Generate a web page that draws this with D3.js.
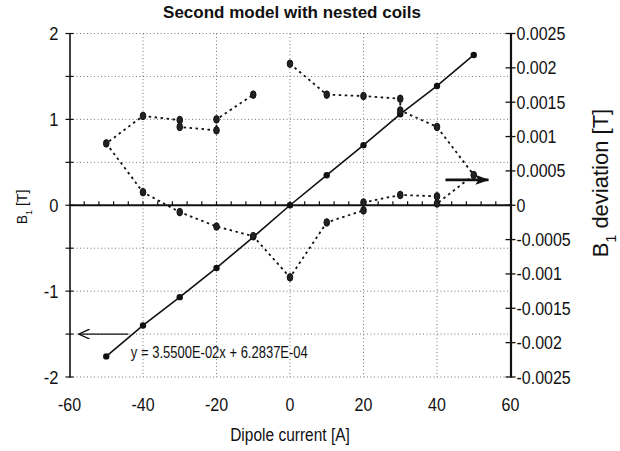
<!DOCTYPE html>
<html><head><meta charset="utf-8">
<script src="https://cdn.jsdelivr.net/npm/d3@7"></script>
<style>
html,body{margin:0;padding:0;background:#fff;}
text{font-family:"Liberation Sans",Arial,Helvetica,sans-serif;fill:#111;}
</style></head>
<body><svg id="c" width="620" height="451"></svg>
<script>
// ---------- data ----------
const title = "Second model with nested coils";
const xLabel = "Dipole current [A]";
const current = [-50,-40,-30,-20,-10,0,10,20,30,40,50];
const b1 = [-1.76,-1.40,-1.07,-0.73,-0.37,0.0,0.35,0.70,1.06,1.39,1.75];
// deviation path, in measurement order
const devCurrent = [0,10,20,30,30,40,50,40,40,30,20,20,10,0,-10,-20,-30,-40,-50,-40,-30,-30,-20,-20,-10];
const devValue = [0.00206,0.00161,0.00159,0.00155,0.00138,0.00114,0.00044,0.000025,0.00013,0.00015,0.00004,-0.000075,-0.00025,-0.00105,-0.00045,-0.00031,-0.0001,0.00019,0.0009,0.0013,0.00124,0.00114,0.00109,0.00125,0.00161];
const xTicks = [-60,-40,-20,0,20,40,60];
const yLeftTicks = [-2,-1,0,1,2];
const yRightTicks = [-0.0025,-0.002,-0.0015,-0.001,-0.0005,0,0.0005,0.001,0.0015,0.002,0.0025];
const fitText = "y = 3.5500E-02x + 6.2837E-04";

// ---------- scales ----------
const svg = d3.select("#c");
const x = d3.scaleLinear().domain([-60,60]).range([69.5,510.5]);
const yL = d3.scaleLinear().domain([-2,2]).range([377,33.5]);
const yR = d3.scaleLinear().domain([-0.0025,0.0025]).range([377,33.5]);

// gridlines (dotted)
const grid = svg.append("g").attr("stroke","#555").attr("stroke-width",0.8).attr("stroke-dasharray","1,2.5");
d3.range(-2,2.01,0.5).filter(v=>Math.abs(v)>1e-9).forEach(v=>{
  grid.append("line").attr("x1",x(-60)).attr("x2",x(60)).attr("y1",yL(v)).attr("y2",yL(v));
});
[-40,-20,0,20,40].forEach(v=>{
  grid.append("line").attr("x1",x(v)).attr("x2",x(v)).attr("y1",yL(2)).attr("y2",yL(-2));
});

// zero line with minor ticks
svg.append("line").attr("x1",x(-60)).attr("x2",x(60)).attr("y1",yL(0)).attr("y2",yL(0))
  .attr("stroke","#111").attr("stroke-width",1.8);
const zt = svg.append("g").attr("stroke","#111").attr("stroke-width",1.2);
d3.range(-56,60,4).forEach(v=>{
  zt.append("line").attr("x1",x(v)).attr("x2",x(v)).attr("y1",yL(0)).attr("y2",yL(0)-4);
});

// left axis
const la = svg.append("g").attr("transform",`translate(${x(-60)},0)`)
  .call(d3.axisLeft(yL).tickValues(d3.range(-2,2.01,0.5)).tickSize(0).tickFormat(""));
la.select(".domain").attr("stroke","#111").attr("stroke-width",1.6);
const lt = svg.append("g").attr("stroke","#111").attr("stroke-width",1.2);
d3.range(-2,2.01,0.5).forEach(v=>{
  lt.append("line").attr("x1",x(-60)-4).attr("x2",x(-60)+4).attr("y1",yL(v)).attr("y2",yL(v));
});
yLeftTicks.forEach(v=>{
  svg.append("text").attr("text-anchor","end")
    .attr("transform",`translate(${x(-60)-11},${yL(v)+6.5}) scale(1,1.1)`)
    .style("font-size","16.5px").text(String(v));
});

// right axis
const ra = svg.append("g").attr("transform",`translate(${x(60)},0)`)
  .call(d3.axisRight(yR).tickValues(yRightTicks).tickSize(0).tickFormat(""));
ra.select(".domain").attr("stroke","#111").attr("stroke-width",2.2);
const rt = svg.append("g").attr("stroke","#111").attr("stroke-width",1.3);
yRightTicks.forEach(v=>{
  rt.append("line").attr("x1",x(60)-5).attr("x2",x(60)+5).attr("y1",yR(v)).attr("y2",yR(v));
  svg.append("text").attr("text-anchor","start")
    .attr("transform",`translate(${x(60)+6},${yR(v)+6.5}) scale(1,1.1)`)
    .style("font-size","16px").text(String(v));
});

// x tick labels
xTicks.forEach(v=>{
  svg.append("text").attr("text-anchor","middle")
    .attr("transform",`translate(${x(v)},${411}) scale(1,1.1)`)
    .style("font-size","16px").text(String(v));
});

// B1 fit line + markers (left axis)
const line = d3.line().x((d,i)=>x(current[i])).y(d=>yL(d));
svg.append("path").attr("d",line(b1)).attr("fill","none").attr("stroke","#111").attr("stroke-width",1.6);
svg.append("g").selectAll("circle").data(b1).join("circle")
  .attr("cx",(d,i)=>x(current[i])).attr("cy",d=>yL(d)).attr("r",3.2).attr("fill","#111");

// deviation path (right axis)
const dline = d3.line().x((d,i)=>x(devCurrent[i])).y(d=>yR(d));
svg.append("path").attr("d",dline(devValue)).attr("fill","none").attr("stroke","#111")
  .attr("stroke-width",1.8).attr("stroke-dasharray","2.5,3.5");
svg.append("g").selectAll("ellipse").data(devValue).join("ellipse")
  .attr("cx",(d,i)=>x(devCurrent[i])).attr("cy",d=>yR(d)).attr("rx",2.8).attr("ry",3.8)
  .attr("fill","#222").attr("stroke","#111").attr("stroke-width",1);

// arrows
const defs = svg.append("defs");
defs.append("marker").attr("id","openHead").attr("viewBox","0 0 12 10").attr("refX",11).attr("refY",5)
  .attr("markerWidth",12).attr("markerHeight",10).attr("markerUnits","userSpaceOnUse").attr("orient","auto")
  .append("path").attr("d","M0,0 L11,5 L0,10").attr("fill","none").attr("stroke","#111").attr("stroke-width",1.3);
defs.append("marker").attr("id","fillHead").attr("viewBox","0 0 14 10").attr("refX",13).attr("refY",5)
  .attr("markerWidth",14).attr("markerHeight",10).attr("markerUnits","userSpaceOnUse").attr("orient","auto")
  .append("path").attr("d","M0,0 L14,5 L0,10 L3,5 Z").attr("fill","#111");
svg.append("line").attr("x1",x(-44)).attr("x2",x(-57.5)).attr("y1",yL(-1.5)).attr("y2",yL(-1.5))
  .attr("stroke","#111").attr("stroke-width",1.3).attr("marker-end","url(#openHead)");
svg.append("line").attr("x1",x(42.3)).attr("x2",x(54)).attr("y1",yR(0.00037)).attr("y2",yR(0.00037))
  .attr("stroke","#111").attr("stroke-width",2.6).attr("marker-end","url(#fillHead)");

// fit equation
svg.append("text").attr("transform",`translate(${x(-43.3)},${yL(-1.75)+2}) scale(1,1.25)`)
  .style("font-size","13px").text(fitText);

// titles
svg.append("text").attr("text-anchor","middle").attr("transform",`translate(292,18)`)
  .style("font-size","17px").style("font-weight","bold").text(title);
svg.append("text").attr("text-anchor","middle").attr("transform",`translate(290,441) scale(1,1.15)`)
  .style("font-size","15.5px").text(xLabel);
const lty = svg.append("text").attr("text-anchor","middle").attr("transform",`translate(27,207) rotate(-90)`)
  .style("font-size","14px");
lty.append("tspan").text("B");
lty.append("tspan").attr("baseline-shift","sub").style("font-size","9px").text("1");
lty.append("tspan").text(" [T]");
const rty = svg.append("text").attr("text-anchor","middle").attr("transform",`translate(608,183) rotate(-90)`)
  .style("font-size","22px");
rty.append("tspan").text("B");
rty.append("tspan").attr("baseline-shift","sub").style("font-size","14px").text("1");
rty.append("tspan").text(" deviation [T]");
</script></body></html>
